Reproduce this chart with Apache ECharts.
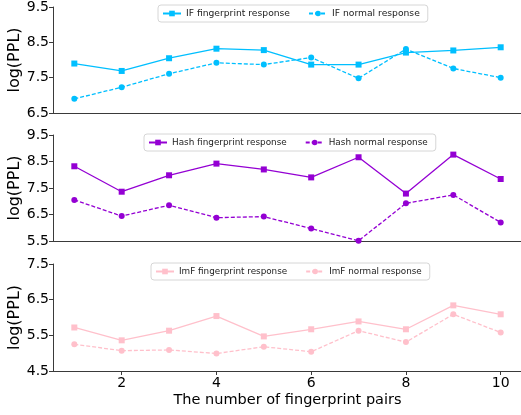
<!DOCTYPE html>
<html>
<head>
<meta charset="utf-8">
<script src="https://cdn.jsdelivr.net/npm/echarts@6/dist/echarts.min.js"></script>
<style>
  html, body { margin: 0; padding: 0; background: #fff; }
  #chart { width: 521px; height: 415px; }
</style>
</head>
<body>
<div id="chart"></div>
<script>
// Number of fingerprint pairs (x values)
const pairs = [1, 2, 3, 4, 5, 6, 7, 8, 9, 10];
const xTicks = [2, 4, 6, 8, 10];

// log(PPL) per method
const ifFingerprint   = [7.90, 7.69, 8.05, 8.32, 8.28, 7.87, 7.87, 8.21, 8.27, 8.36];
const ifNormal        = [6.90, 7.23, 7.61, 7.92, 7.87, 8.07, 7.48, 8.31, 7.76, 7.50];
const hashFingerprint = [8.32, 7.36, 7.98, 8.42, 8.20, 7.90, 8.66, 7.29, 8.76, 7.84];
const hashNormal      = [7.05, 6.44, 6.85, 6.38, 6.42, 5.97, 5.51, 6.92, 7.24, 6.20];
const imfFingerprint  = [5.72, 5.36, 5.63, 6.04, 5.47, 5.67, 5.89, 5.67, 6.34, 6.09];
const imfNormal       = [5.25, 5.07, 5.09, 4.99, 5.18, 5.04, 5.63, 5.31, 6.09, 5.58];

// y tick labels per panel
const ifTicks   = [6.5, 7.5, 8.5, 9.5];
const hashTicks = [5.5, 6.5, 7.5, 8.5, 9.5];
const imfTicks  = [4.5, 5.5, 6.5, 7.5];

const FONT = 'DejaVu Sans';
const AXIS_COLOR = '#3a3a3a';

const toPairs = ys => ys.map((y, i) => [pairs[i], y]);

const grids = [
  { left: 53, width: 469, top: 7, height: 106, outerBoundsMode: 'none', containLabel: false },
  { left: 53, width: 469, top: 135, height: 106, outerBoundsMode: 'none', containLabel: false },
  { left: 53, width: 469, top: 264, height: 107, outerBoundsMode: 'none', containLabel: false }
];

function xAxisFor(i, last) {
  return {
    type: 'value', gridIndex: i, min: 0.55, max: 10.45,
    splitLine: { show: false },
    axisLine: { show: true, lineStyle: { color: AXIS_COLOR, width: 1 } },
    axisTick: last ? { show: true, customValues: xTicks, length: 4, lineStyle: { color: AXIS_COLOR } } : { show: false },
    axisLabel: last ? { show: true, customValues: xTicks, fontFamily: FONT, fontSize: 14, color: '#000', margin: 5 } : { show: false },
    name: last ? 'The number of fingerprint pairs' : '',
    nameLocation: 'middle', nameGap: 22, nameMoveOverlap: false,
    nameTextStyle: { fontFamily: FONT, fontSize: 14.5, color: '#000' }
  };
}

function yAxisFor(i, min, max, ticks) {
  return {
    type: 'value', gridIndex: i, min: min, max: max,
    splitLine: { show: false },
    axisLine: { show: true, lineStyle: { color: AXIS_COLOR, width: 1 } },
    axisTick: { show: true, customValues: ticks, length: 4, lineStyle: { color: AXIS_COLOR } },
    axisLabel: { customValues: ticks, fontFamily: FONT, fontSize: 14, color: '#000', margin: 4,
                 formatter: v => v.toFixed(1) },
    name: 'log(PPL)', nameLocation: 'middle', nameRotate: 90, nameGap: 30, nameMoveOverlap: false,
    nameTextStyle: { fontFamily: FONT, fontSize: 16, color: '#000' }
  };
}

function lineSeries(name, ys, color, dashed, idx) {
  return {
    type: 'line', name: name, data: toPairs(ys),
    xAxisIndex: idx, yAxisIndex: idx,
    symbol: dashed ? 'circle' : 'rect',
    symbolSize: 6,
    clip: false,
    itemStyle: { color: color },
    lineStyle: { color: color, width: 1.3, type: dashed ? [4, 2] : 'solid' },
    emphasis: { disabled: true }
  };
}

function legendFor(names, left, top, fontSize) {
  return {
    data: names, left: left, top: top, orient: 'horizontal',
    itemWidth: 18, itemHeight: 7, itemGap: 18,
    padding: [4, 8, 4, 4],
    borderColor: '#d6d6d6', borderWidth: 1, borderRadius: 3,
    backgroundColor: 'rgba(255,255,255,0.8)',
    textStyle: { fontFamily: FONT, fontSize: fontSize, color: '#222' },
    selectedMode: false
  };
}

const IF_COLOR = '#00BFFF', HASH_COLOR = '#9400D3', IMF_COLOR = '#FFC0CB';

const option = {
  animation: false,
  backgroundColor: '#fff',
  grid: grids,
  xAxis: [xAxisFor(0, false), xAxisFor(1, false), xAxisFor(2, true)],
  yAxis: [
    yAxisFor(0, 6.5, 9.5, ifTicks),
    yAxisFor(1, 5.5, 9.5, hashTicks),
    yAxisFor(2, 4.5, 7.5, imfTicks)
  ],
  legend: [
    legendFor(['IF fingerprint response', 'IF normal response'], 158, 5, 9.2),
    legendFor(['Hash fingerprint response', 'Hash normal response'], 144, 134, 8.85),
    legendFor(['ImF fingerprint response', 'ImF normal response'], 151, 263, 8.8)
  ],
  series: [
    lineSeries('IF fingerprint response', ifFingerprint, IF_COLOR, false, 0),
    lineSeries('IF normal response', ifNormal, IF_COLOR, true, 0),
    lineSeries('Hash fingerprint response', hashFingerprint, HASH_COLOR, false, 1),
    lineSeries('Hash normal response', hashNormal, HASH_COLOR, true, 1),
    lineSeries('ImF fingerprint response', imfFingerprint, IMF_COLOR, false, 2),
    lineSeries('ImF normal response', imfNormal, IMF_COLOR, true, 2)
  ]
};

const chart = echarts.init(document.getElementById('chart'), null, { renderer: 'canvas' });
chart.setOption(option);
</script>
</body>
</html>
